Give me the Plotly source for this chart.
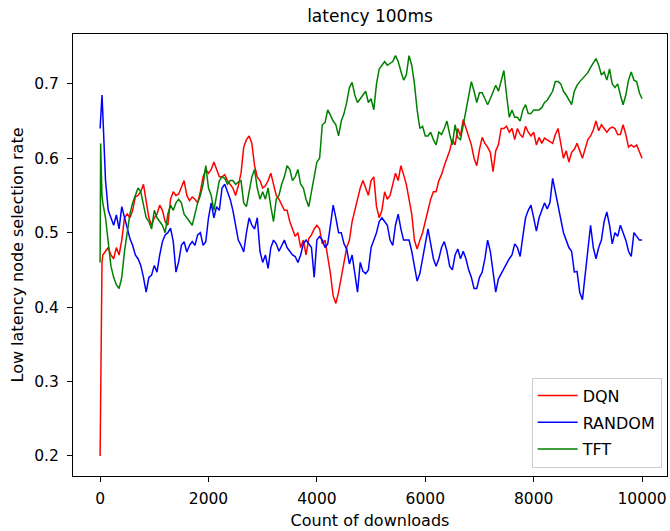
import plotly.graph_objects as go

# x: count of downloads (sampling grid)
counts = [0, 10, 20, 35] + list(range(50, 10001, 50))

dqn = [0.2, 0.3, 0.29, 0.46,
       0.47, 0.475, 0.48, 0.47, 0.465, 0.48, 0.47, 0.49, 0.52, 0.525,
       0.52, 0.53, 0.548, 0.55, 0.555, 0.565, 0.545, 0.52, 0.51, 0.52,
       0.525, 0.537, 0.53, 0.515, 0.51, 0.545, 0.555, 0.55, 0.552, 0.56,
       0.57, 0.55, 0.543, 0.548, 0.545, 0.54, 0.555, 0.575, 0.585, 0.58,
       0.585, 0.595, 0.585, 0.575, 0.575, 0.578, 0.57, 0.565, 0.56, 0.55,
       0.563, 0.58, 0.615, 0.625, 0.63, 0.62, 0.59, 0.575, 0.57, 0.56,
       0.563, 0.57, 0.58, 0.565, 0.55, 0.545, 0.537, 0.53, 0.53, 0.515,
       0.505, 0.495, 0.5, 0.48, 0.49, 0.47, 0.492, 0.497, 0.505, 0.51,
       0.505, 0.485, 0.49, 0.47, 0.445, 0.415, 0.405, 0.42, 0.44, 0.46,
       0.48, 0.49, 0.515, 0.53, 0.545, 0.56, 0.57, 0.56, 0.55, 0.57,
       0.575, 0.535, 0.52, 0.53, 0.555, 0.545, 0.55, 0.565, 0.58, 0.57,
       0.59, 0.578, 0.565, 0.545, 0.525, 0.49, 0.478, 0.49, 0.5, 0.515,
       0.53, 0.545, 0.555, 0.555, 0.57, 0.578, 0.59, 0.6, 0.61, 0.625,
       0.618, 0.64, 0.63, 0.652, 0.64, 0.627, 0.618, 0.6, 0.59, 0.612,
       0.628, 0.62, 0.615, 0.608, 0.582, 0.61, 0.618, 0.64, 0.64, 0.643,
       0.635, 0.64, 0.625, 0.64, 0.632, 0.628, 0.643, 0.635, 0.63, 0.635,
       0.618, 0.628, 0.62, 0.627, 0.625, 0.622, 0.62, 0.632, 0.64, 0.62,
       0.6, 0.61, 0.595, 0.608, 0.612, 0.62, 0.61, 0.6, 0.613, 0.625,
       0.63, 0.638, 0.65, 0.637, 0.645, 0.64, 0.635, 0.64, 0.642, 0.64,
       0.632, 0.632, 0.645, 0.632, 0.615, 0.618, 0.615, 0.618, 0.61, 0.6]

random_ = [0.64, 0.66, 0.675, 0.685,
           0.66, 0.57, 0.53, 0.52, 0.51, 0.524, 0.505, 0.535, 0.52, 0.508,
           0.492, 0.483, 0.47, 0.465, 0.456, 0.44, 0.42, 0.44, 0.443, 0.456,
           0.447, 0.47, 0.488, 0.497, 0.5, 0.506, 0.488, 0.447, 0.461, 0.483,
           0.488, 0.474, 0.483, 0.488, 0.483, 0.497, 0.5, 0.483, 0.488, 0.52,
           0.54, 0.52, 0.535, 0.53, 0.56, 0.565, 0.555, 0.545, 0.53, 0.51,
           0.49, 0.483, 0.474, 0.5, 0.52, 0.51, 0.505, 0.52, 0.475, 0.46,
           0.47, 0.452, 0.48, 0.49, 0.485, 0.475, 0.483, 0.49, 0.48, 0.475,
           0.47, 0.468, 0.46, 0.47, 0.485, 0.49, 0.485, 0.48, 0.44, 0.49,
           0.495, 0.49, 0.48, 0.485, 0.51, 0.537, 0.52, 0.5, 0.5, 0.485,
           0.478, 0.458, 0.47, 0.445, 0.42, 0.46, 0.448, 0.445, 0.45, 0.48,
           0.49, 0.5, 0.515, 0.52, 0.515, 0.51, 0.49, 0.483, 0.51, 0.525,
           0.505, 0.49, 0.49, 0.49, 0.475, 0.455, 0.435, 0.445, 0.465, 0.49,
           0.505, 0.485, 0.465, 0.455, 0.465, 0.48, 0.488, 0.475, 0.455, 0.45,
           0.47, 0.478, 0.465, 0.475, 0.465, 0.45, 0.44, 0.425, 0.425, 0.44,
           0.447, 0.465, 0.49, 0.475, 0.445, 0.42, 0.438, 0.445, 0.452, 0.458,
           0.465, 0.47, 0.485, 0.48, 0.468, 0.495, 0.52, 0.53, 0.537, 0.52,
           0.502, 0.52, 0.53, 0.54, 0.532, 0.54, 0.573, 0.555, 0.537, 0.515,
           0.5, 0.49, 0.48, 0.475, 0.447, 0.448, 0.42, 0.41, 0.443, 0.475,
           0.51, 0.48, 0.465, 0.48, 0.49, 0.515, 0.528, 0.51, 0.485, 0.5,
           0.495, 0.51, 0.5, 0.49, 0.475, 0.468, 0.5, 0.495, 0.49, 0.49]

tft = [0.46, 0.62, 0.59, 0.55,
       0.54, 0.52, 0.49, 0.455, 0.44, 0.43, 0.425, 0.44, 0.475, 0.5,
       0.525, 0.54, 0.55, 0.56, 0.555, 0.535, 0.52, 0.515, 0.505, 0.53,
       0.52, 0.515, 0.51, 0.5, 0.525, 0.537, 0.53, 0.54, 0.545, 0.54,
       0.525, 0.52, 0.515, 0.51, 0.525, 0.54, 0.55, 0.565, 0.59, 0.56,
       0.55, 0.53, 0.55, 0.57, 0.575, 0.573, 0.565, 0.57, 0.57, 0.565,
       0.568, 0.57, 0.54, 0.535, 0.555, 0.575, 0.585, 0.56, 0.545, 0.555,
       0.545, 0.56, 0.535, 0.515, 0.545, 0.55, 0.565, 0.575, 0.59, 0.585,
       0.57, 0.575, 0.585, 0.565, 0.56, 0.545, 0.535, 0.555, 0.575, 0.595,
       0.6, 0.645, 0.648, 0.665, 0.658, 0.65, 0.645, 0.63, 0.65, 0.66,
       0.675, 0.695, 0.702, 0.685, 0.675, 0.68, 0.685, 0.69, 0.675, 0.68,
       0.665, 0.7, 0.72, 0.725, 0.73, 0.725, 0.728, 0.73, 0.738, 0.73,
       0.717, 0.705, 0.712, 0.738, 0.725, 0.7, 0.665, 0.64, 0.643, 0.63,
       0.63, 0.635, 0.625, 0.618, 0.635, 0.632, 0.64, 0.65, 0.632, 0.618,
       0.645, 0.628, 0.625, 0.645, 0.668, 0.688, 0.703, 0.69, 0.675, 0.688,
       0.688, 0.68, 0.672, 0.68, 0.69, 0.698, 0.69, 0.703, 0.718, 0.685,
       0.655, 0.665, 0.655, 0.655, 0.65, 0.665, 0.672, 0.66, 0.66, 0.665,
       0.665, 0.665, 0.668, 0.675, 0.678, 0.685, 0.69, 0.703, 0.703, 0.7,
       0.69, 0.685, 0.678, 0.672, 0.69, 0.698, 0.703, 0.707, 0.71, 0.715,
       0.722, 0.728, 0.734, 0.725, 0.712, 0.716, 0.705, 0.72, 0.7, 0.695,
       0.7, 0.685, 0.672, 0.685, 0.705, 0.716, 0.705, 0.703, 0.688, 0.68]

series_names = ["DQN", "RANDOM", "TFT"]
series_values = [dqn, random_, tft]
series_colors = ["#ff0000", "#0000ff", "#008000"]

x_ticks = [0, 2000, 4000, 6000, 8000, 10000]
y_ticks = [0.2, 0.3, 0.4, 0.5, 0.6, 0.7]

for n, v in zip(series_names, series_values):
    if len(v) != len(counts):
        print("length mismatch", n, len(v), len(counts))

FONT = "DejaVu Sans"
TICK_SIZE = 15.5
LABEL_SIZE = 16

fig = go.Figure()
for name, vals, col in zip(series_names, series_values, series_colors):
    fig.add_trace(go.Scatter(
        x=counts, y=vals, mode="lines", name=name,
        legendgroup=name,
        line=dict(color=col, width=1.5),
    ))

fig.update_layout(
    width=670, height=531,
    margin=dict(l=73, r=3, t=34, b=55),
    paper_bgcolor="white", plot_bgcolor="white",
    font=dict(family=FONT, size=LABEL_SIZE, color="#000000"),
    title=dict(text="latency 100ms", x=0.5, xref="paper", xanchor="center",
               y=1 - 16 / 531, yanchor="middle",
               font=dict(family=FONT, size=17, color="#000000")),
    showlegend=True,
    legend=dict(
        x=0.991, y=0.019, xanchor="right", yanchor="bottom",
        bgcolor="rgba(255,255,255,0.8)", bordercolor="#cccccc", borderwidth=1,
        font=dict(family=FONT, size=LABEL_SIZE, color="#000000"),
        traceorder="grouped", tracegroupgap=3, itemwidth=40,
    ),
)

fig.update_xaxes(
    range=[-500, 10460], tickvals=x_ticks, tickformat="d",
    showgrid=False, zeroline=False,
    showline=True, mirror=True, linecolor="#000000", linewidth=1,
    ticks="outside", ticklen=5, tickwidth=1, tickcolor="#000000",
    ticklabelstandoff=3,
    title=dict(text="Count of downloads", standoff=8,
               font=dict(family=FONT, size=LABEL_SIZE)),
    tickfont=dict(family=FONT, size=TICK_SIZE),
)
fig.update_yaxes(
    range=[0.173, 0.767], tickvals=y_ticks, ticktext=[f"{v:.1f}" for v in y_ticks],
    showgrid=False, zeroline=False,
    showline=True, mirror=True, linecolor="#000000", linewidth=1,
    ticks="outside", ticklen=5, tickwidth=1, tickcolor="#000000",
    ticklabelstandoff=5,
    title=dict(text="Low latency node selection rate", standoff=6,
               font=dict(family=FONT, size=LABEL_SIZE)),
    tickfont=dict(family=FONT, size=TICK_SIZE),
)

fig.write_html("out.html")
